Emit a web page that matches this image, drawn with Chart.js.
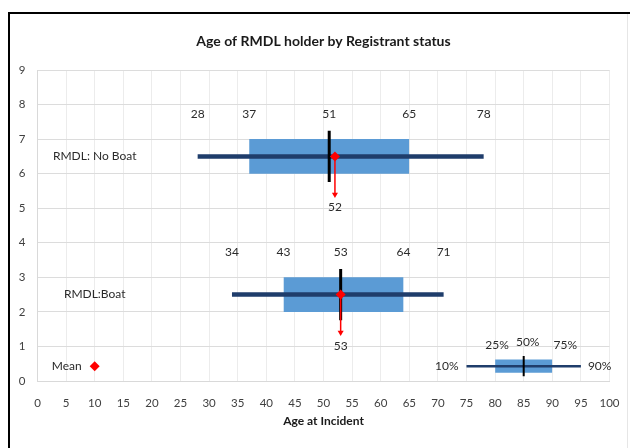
<!DOCTYPE html>
<html>
<head>
<meta charset="utf-8">
<script src="https://cdn.jsdelivr.net/npm/chart.js@4.4.1/dist/chart.umd.min.js"></script>
<style>
    html, body { margin: 0; padding: 0; background: #fff; }
    #wrap { position: relative; width: 630px; height: 448px; overflow: hidden; }
    #wrap canvas { position: absolute; left: 0; top: 0; }
    #frame { position: absolute; left: 8px; top: 12px; width: 700px; height: 500px;
             border-left: 2px solid #000; border-top: 2px solid #000; pointer-events: none; }
    #edge { position: absolute; left: 627px; top: 14px; width: 1px; height: 440px; background: #e6e6e6; }
</style>
</head>
<body>
<div id="wrap">
    <canvas id="boxChart" width="630" height="448"></canvas>
    <div id="edge"></div>
    <div id="frame"></div>
</div>
<script>
(function() {
    'use strict';

    // groups and their summary stats (age at incident)
    var groups = ['RMDL: No Boat', 'RMDL:Boat'];
    var rowLevel = [6.5, 2.5];
    var p10 = [28, 34];
    var q1 = [37, 43];
    var median = [51, 53];
    var q3 = [65, 64];
    var p90 = [78, 71];
    var mean = [52, 53];

    // key drawn inside the plot (bottom right) + mean marker key
    var keyValues = [75, 80, 85, 90, 95];
    var keyLabels = ['10%', '25%', '50%', '75%', '90%'];
    var keyLevel = 0.43;
    var meanKeyValue = 10;

    var xTickValues = [0, 5, 10, 15, 20, 25, 30, 35, 40, 45, 50, 55, 60, 65, 70, 75, 80, 85, 90, 95, 100];
    var yTickValues = [0, 1, 2, 3, 4, 5, 6, 7, 8, 9];

    var BOX_BLUE = '#5b9bd5';
    var WHISKER = '#1f3d6b';
    var RED = '#ff0000';
    var TEXT = '#2b2b2b';
    var FONT = 'Lato';

    function boxSet(lo, hi, level, half) {
        return {
            data: [{ x: lo, y: level + half }, { x: hi, y: level + half }],
            fill: { target: { value: level - half } },
            backgroundColor: BOX_BLUE,
            borderWidth: 0,
            pointRadius: 0,
            order: 5
        };
    }

    function lineSet(pts, color, width, order) {
        return {
            data: pts,
            borderColor: color,
            borderWidth: width,
            borderCapStyle: 'butt',
            pointRadius: 0,
            fill: false,
            order: order
        };
    }

    var datasets = [];
    groups.forEach(function(g, i) {
        var lv = rowLevel[i];
        datasets.push(boxSet(q1[i], q3[i], lv, 0.5));
        datasets.push(lineSet([{ x: p10[i], y: lv }, { x: p90[i], y: lv }], WHISKER, 4.5, 4));
        datasets.push(lineSet([{ x: median[i], y: lv - 0.74 }, { x: median[i], y: lv + 0.74 }], '#000', 3, 3));
        var arrow = lineSet([{ x: mean[i], y: lv }, { x: mean[i], y: lv - 1.1 }], RED, 1.5, 2);
        arrow.pointRadius = [0, 3.5];
        arrow.pointStyle = 'triangle';
        arrow.rotation = 180;
        arrow.pointBackgroundColor = RED;
        arrow.pointBorderWidth = 0;
        datasets.push(arrow);
        datasets.push({
            data: [{ x: mean[i], y: lv }],
            showLine: false,
            pointStyle: 'rectRot',
            pointRadius: 5,
            pointBackgroundColor: RED,
            pointBorderWidth: 0,
            order: 1
        });
    });

    // key box
    datasets.push(boxSet(keyValues[1], keyValues[3], keyLevel, 0.19));
    datasets.push(lineSet([{ x: keyValues[0], y: keyLevel }, { x: keyValues[4], y: keyLevel }], WHISKER, 2.5, 4));
    datasets.push(lineSet([{ x: keyValues[2], y: keyLevel - 0.29 }, { x: keyValues[2], y: keyLevel + 0.29 }], '#000', 2, 3));
    datasets.push({
        data: [{ x: meanKeyValue, y: keyLevel }],
        showLine: false,
        pointStyle: 'rectRot',
        pointRadius: 5,
        pointBackgroundColor: RED,
        pointBorderWidth: 0,
        order: 1
    });

    var labelsPlugin = {
        id: 'boxLabels',
        afterDatasetsDraw: function(chart) {
            var ctx = chart.ctx;
            var xs = chart.scales.x;
            var ys = chart.scales.y;
            ctx.save();
            ctx.fillStyle = TEXT;
            ctx.font = '12px ' + FONT;
            ctx.textBaseline = 'middle';
            ctx.textAlign = 'center';

            groups.forEach(function(g, i) {
                var lv = rowLevel[i];
                ctx.fillText(g, xs.getPixelForValue(10), ys.getPixelForValue(lv));
                [p10[i], q1[i], median[i], q3[i], p90[i]].forEach(function(v) {
                    ctx.fillText(String(v), xs.getPixelForValue(v), ys.getPixelForValue(lv + 1.22));
                });
                ctx.fillText(String(mean[i]), xs.getPixelForValue(mean[i]), ys.getPixelForValue(lv - 1.48));
            });

            // key texts
            var kyPix = ys.getPixelForValue(keyLevel);
            ctx.textAlign = 'right';
            ctx.fillText(keyLabels[0], xs.getPixelForValue(keyValues[0]) - 8, kyPix);
            ctx.fillText('Mean', xs.getPixelForValue(meanKeyValue) - 13, kyPix);
            ctx.textAlign = 'left';
            ctx.fillText(keyLabels[4], xs.getPixelForValue(keyValues[4]) + 7, kyPix);
            ctx.textAlign = 'center';
            var nudge = [0, 2, 4, 13, 0];
            for (var k = 1; k <= 3; k++) {
                var up = k === 2 ? 0.7 : 0.62;
                ctx.fillText(keyLabels[k], xs.getPixelForValue(keyValues[k]) + nudge[k], ys.getPixelForValue(keyLevel + up));
            }
            ctx.restore();
        }
    };

    var ctx = document.getElementById('boxChart').getContext('2d');
    new Chart(ctx, {
        type: 'line',
        data: { datasets: datasets },
        plugins: [labelsPlugin],
        options: {
            responsive: false,
            animation: false,
            events: [],
            layout: { padding: { left: 0, right: 20.5, top: 0, bottom: 20 } },
            plugins: {
                legend: { display: false },
                tooltip: { enabled: false },
                title: {
                    display: true,
                    text: 'Age of RMDL holder by Registrant status',
                    fullSize: false,
                    color: '#1a1a1a',
                    font: { family: FONT, size: 14, weight: 'bold', lineHeight: 1.2 },
                    padding: { top: 33, bottom: 20.2 }
                }
            },
            scales: {
                x: {
                    type: 'linear',
                    min: 0,
                    max: 100,
                    afterBuildTicks: function(scale) {
                        scale.ticks = xTickValues.map(function(v) { return { value: v }; });
                    },
                    afterFit: function(scale) {
                        scale.height = 47;
                        scale.paddingLeft = 0;
                        scale.paddingRight = 0;
                    },
                    grid: { color: '#ececec', drawTicks: false },
                    border: { display: true, color: '#d9d9d9' },
                    ticks: {
                        padding: 15,
                        maxRotation: 0,
                        autoSkip: false,
                        color: '#404040',
                        font: { family: FONT, size: 11.5 }
                    },
                    title: {
                        display: true,
                        text: 'Age at Incident',
                        color: '#1a1a1a',
                        padding: 0,
                        font: { family: FONT, size: 12, weight: 'bold', lineHeight: 1.2 }
                    }
                },
                y: {
                    type: 'linear',
                    min: 0,
                    max: 9,
                    afterBuildTicks: function(scale) {
                        scale.ticks = yTickValues.map(function(v) { return { value: v }; });
                    },
                    afterFit: function(scale) { scale.width = 37.5; },
                    grid: { color: '#dcdcdc', drawTicks: false },
                    border: { display: true, color: '#d9d9d9' },
                    ticks: {
                        padding: 12,
                        color: '#404040',
                        font: { family: FONT, size: 11.5 }
                    }
                }
            }
        }
    });
})();
</script>
</body>
</html>
